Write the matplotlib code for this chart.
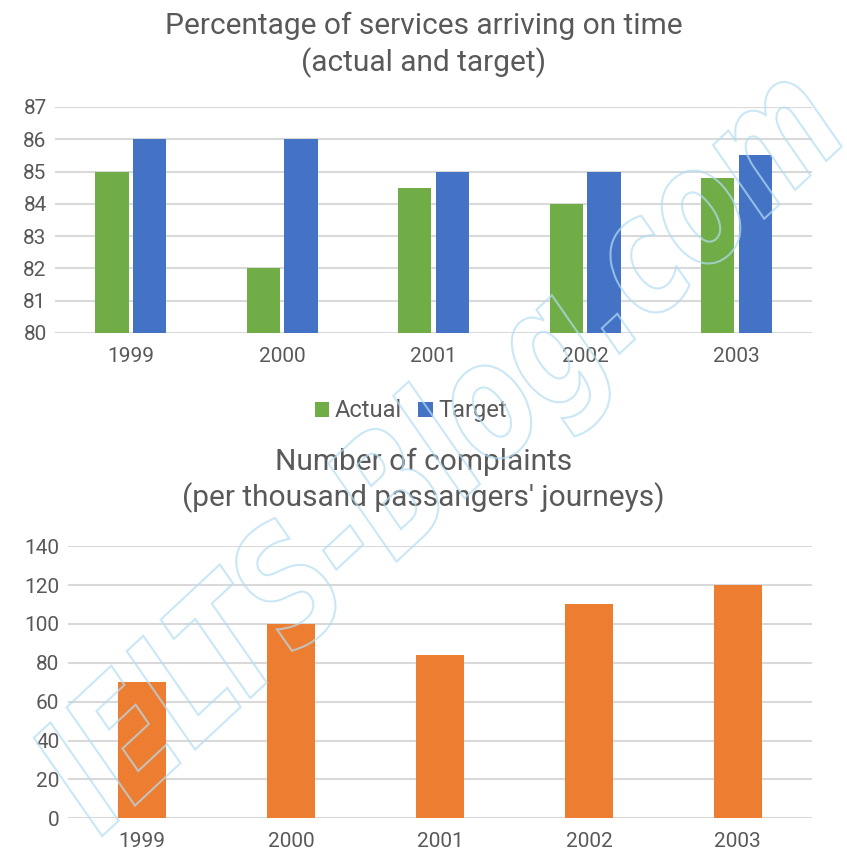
import numpy as np
import matplotlib.pyplot as plt
from matplotlib.textpath import TextPath
from matplotlib.patches import PathPatch
from matplotlib.font_manager import FontProperties
import matplotlib.transforms as mtransforms

plt.rcParams['font.family'] = ['Roboto', 'DejaVu Sans']

years = ['1999', '2000', '2001', '2002', '2003']
actual = [85, 82, 84.5, 84, 84.8]
target = [86, 86, 85, 85, 85.5]
complaints = [70, 100, 84, 110, 120]

green = '#70AD47'
blue = '#4472C4'
orange = '#ED7D31'
grey_txt = '#595959'
grid_col = '#D9D9D9'

fig = plt.figure(figsize=(8.47, 8.56), dpi=100)

# top chart: punctuality
ax1 = fig.add_axes([0.065, 0.611, 0.894, 0.264])
x = np.arange(len(years))
w = 0.22
ax1.bar(x - 0.125, [a - 80 for a in actual], w, bottom=80, color=green, label='Actual', zorder=3)
ax1.bar(x + 0.125, [t - 80 for t in target], w, bottom=80, color=blue, label='Target', zorder=3)
ax1.set_ylim(80, 87)
ax1.set_yticks(range(80, 88))
ax1.set_xlim(-0.5, 4.5)
ax1.set_xticks(x, years)
ax1.legend(loc='upper center', bbox_to_anchor=(0.47, -0.2), ncol=2, frameon=False,
           handlelength=0.6, handleheight=0.6, handletextpad=0.25, columnspacing=0.7,
           fontsize=17, labelcolor=grey_txt)
fig.text(0.5, 0.97, 'Percentage of services arriving on time', ha='center', va='center',
         fontsize=21.5, color=grey_txt)
fig.text(0.5, 0.927, '(actual and target)', ha='center', va='center',
         fontsize=21.5, color=grey_txt)

# bottom chart: complaints
ax2 = fig.add_axes([0.080, 0.044, 0.879, 0.318])
ax2.bar(x, complaints, 0.32, color=orange, zorder=3)
ax2.set_ylim(0, 140)
ax2.set_yticks(range(0, 141, 20))
ax2.set_xlim(-0.5, 4.5)
ax2.set_xticks(x, years)
fig.text(0.5, 0.46, 'Number of complaints', ha='center', va='center',
         fontsize=21.5, color=grey_txt)
fig.text(0.5, 0.419, "(per thousand passangers' journeys)", ha='center', va='center',
         fontsize=21.5, color=grey_txt)

for ax in (ax1, ax2):
    for s in ax.spines.values():
        s.set_visible(False)
    ax.grid(axis='y', color=grid_col, linewidth=1.5, zorder=0)
    ax.tick_params(length=0, labelsize=15, colors=grey_txt)
    ax.tick_params(axis='x', pad=10)
    ax.tick_params(axis='y', pad=6)

# watermark outline text
fp = FontProperties(family='DejaVu Sans', weight='bold', style='italic')
tp = TextPath((0, 0), 'IELTS-Blog.com', size=100, prop=fp)
ext = tp.get_extents()
scale = 1020 / ext.width
tr = (mtransforms.Affine2D().translate(-ext.x0 - ext.width / 2, -ext.y0 - ext.height / 2)
      .scale(scale, scale * 1.35).rotate_deg(43).translate(445, 400))
patch = PathPatch(tr.transform_path(tp), facecolor='none', edgecolor='#B4DDF3',
                  linewidth=1.5, alpha=0.7, transform=None, zorder=10)
fig.patches.append(patch)

fig.savefig('out.png', dpi=100)
